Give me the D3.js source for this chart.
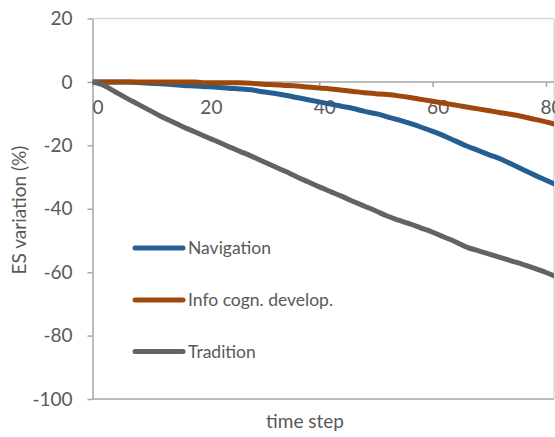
<!DOCTYPE html>
<html>
<head>
<meta charset="utf-8">
<script src="https://unpkg.com/d3@7/dist/d3.min.js"></script>
<style>
  body { margin: 0; background: #fff; }
  text { font-family: Lato, "Open Sans", sans-serif; fill: #595959; }
</style>
</head>
<body>
<div id="chart"></div>
<script>
// time steps (every 2 steps)
const steps = d3.range(0, 84, 2);

const navigation = [0, 0, 0, 0, -0.2, -0.4, -0.6, -0.8, -1.1, -1.3, -1.5, -1.7, -2.0, -2.2,
  -2.5, -3.1, -3.6, -4.2, -4.9, -5.6, -6.3, -7.0, -7.7, -8.4, -9.3, -10.0, -11.0, -12.0,
  -13.1, -14.3, -15.6, -17.0, -18.6, -20.2, -21.6, -23.0, -24.3, -26.0, -27.7, -29.4, -31.0, -32.6];

const infoCogn = [0, 0, 0, 0, 0, 0, 0, 0, 0, 0, -0.3, -0.3, -0.3, -0.3,
  -0.4, -0.7, -0.9, -1.1, -1.3, -1.6, -1.9, -2.2, -2.6, -3.0, -3.4, -3.7, -4.0, -4.4,
  -4.9, -5.5, -6.1, -6.7, -7.3, -7.9, -8.5, -9.1, -9.7, -10.3, -11.0, -11.8, -12.6, -13.5];

const tradition = [0, -1.1, -3.1, -5.1, -7.0, -8.9, -10.8, -12.5, -14.2, -15.7, -17.3, -18.8, -20.4, -21.9,
  -23.4, -25.0, -26.6, -28.2, -29.9, -31.5, -33.1, -34.6, -36.1, -37.7, -39.2, -40.7, -42.3, -43.6,
  -44.8, -46.1, -47.4, -48.9, -50.4, -52.1, -53.2, -54.3, -55.4, -56.5, -57.6, -58.8, -60.1, -61.6];

const seriesNames = ["Navigation", "Info cogn. develop.", "Tradition"];
const seriesColors = ["#255e91", "#9e480e", "#636363"];
const seriesValues = [navigation, infoCogn, tradition];

const xTicks = [0, 20, 40, 60, 80];
const yTicks = [20, 0, -20, -40, -60, -80, -100];

const w = 555, h = 437;

const xScale = d3.scaleLinear().domain([0, 80]).range([92.5, 546]);
const yScale = d3.scaleLinear().domain([-100, 20]).range([399, 18.5]);
const right = 554;

const svg = d3.select("#chart").append("svg")
  .attr("width", w)
  .attr("height", h);

// plot border (top / right, light)
svg.append("line")
  .attr("x1", xScale(0)).attr("x2", right)
  .attr("y1", yScale(20)).attr("y2", yScale(20))
  .attr("stroke", "#d9d9d9").attr("stroke-width", 1.5);
svg.append("line")
  .attr("x1", right).attr("x2", right)
  .attr("y1", yScale(20)).attr("y2", yScale(-100))
  .attr("stroke", "#d9d9d9").attr("stroke-width", 1.5);

// bottom border
svg.append("line")
  .attr("x1", xScale(0)).attr("x2", right)
  .attr("y1", yScale(-100)).attr("y2", yScale(-100))
  .attr("stroke", "#a6a6a6").attr("stroke-width", 1.5);

// y axis (plain hyphen minus like the original)
const yAxis = svg.append("g")
  .attr("transform", "translate(" + xScale(0) + ",0)")
  .call(d3.axisLeft(yScale).tickValues(yTicks).tickFormat(d => String(d))
    .tickSize(5).tickPadding(15).tickSizeOuter(0));
yAxis.select(".domain").attr("stroke", "#a6a6a6").attr("stroke-width", 1.5);
yAxis.selectAll(".tick line").attr("stroke", "#a6a6a6").attr("stroke-width", 1.5);
yAxis.selectAll(".tick text").style("font-size", "19px").attr("fill", "#595959");

// x axis on the zero line
const xAxis = svg.append("g")
  .attr("transform", "translate(0," + yScale(0) + ")")
  .call(d3.axisBottom(xScale).tickValues(xTicks).tickFormat(d => String(d))
    .tickSize(5).tickPadding(14).tickSizeOuter(0));
xAxis.select(".domain").attr("d", "M" + xScale(0) + ",0H" + right)
  .attr("stroke", "#a6a6a6").attr("stroke-width", 1.5);
xAxis.selectAll(".tick line").attr("stroke", "#a6a6a6").attr("stroke-width", 1.5);
xAxis.selectAll(".tick text").style("font-size", "19px").attr("fill", "#595959")
  .attr("dx", 5);

// clip
svg.append("clipPath").attr("id", "clip")
  .append("rect")
  .attr("x", xScale(0)).attr("y", 0)
  .attr("width", right - xScale(0)).attr("height", h);

const line = d3.line()
  .x((d, i) => xScale(steps[i]))
  .y(d => yScale(d))
  .curve(d3.curveMonotoneX);

svg.append("g").attr("clip-path", "url(#clip)")
  .selectAll("path")
  .data(seriesValues)
  .enter()
  .append("path")
  .attr("d", d => line(d))
  .attr("fill", "none")
  .attr("stroke", (d, i) => seriesColors[i])
  .attr("stroke-width", 5)
  .attr("stroke-linejoin", "round");

// legend
const legendY = [248, 300, 351.5];
const legend = svg.append("g");
seriesNames.forEach((name, i) => {
  legend.append("line")
    .attr("x1", 135).attr("x2", 183)
    .attr("y1", legendY[i]).attr("y2", legendY[i])
    .attr("stroke", seriesColors[i])
    .attr("stroke-width", 5)
    .attr("stroke-linecap", "round");
  legend.append("text")
    .attr("x", 188)
    .attr("y", legendY[i])
    .attr("dy", "0.35em")
    .style("font-size", "17.5px")
    .text(name);
});

// axis labels
svg.append("text")
  .attr("x", 305)
  .attr("y", 428)
  .attr("text-anchor", "middle")
  .style("font-size", "19px")
  .text("time step");

svg.append("text")
  .attr("transform", "rotate(-90)")
  .attr("x", -210)
  .attr("y", 26)
  .attr("text-anchor", "middle")
  .style("font-size", "19px")
  .text("ES variation (%)");
</script>
</body>
</html>
